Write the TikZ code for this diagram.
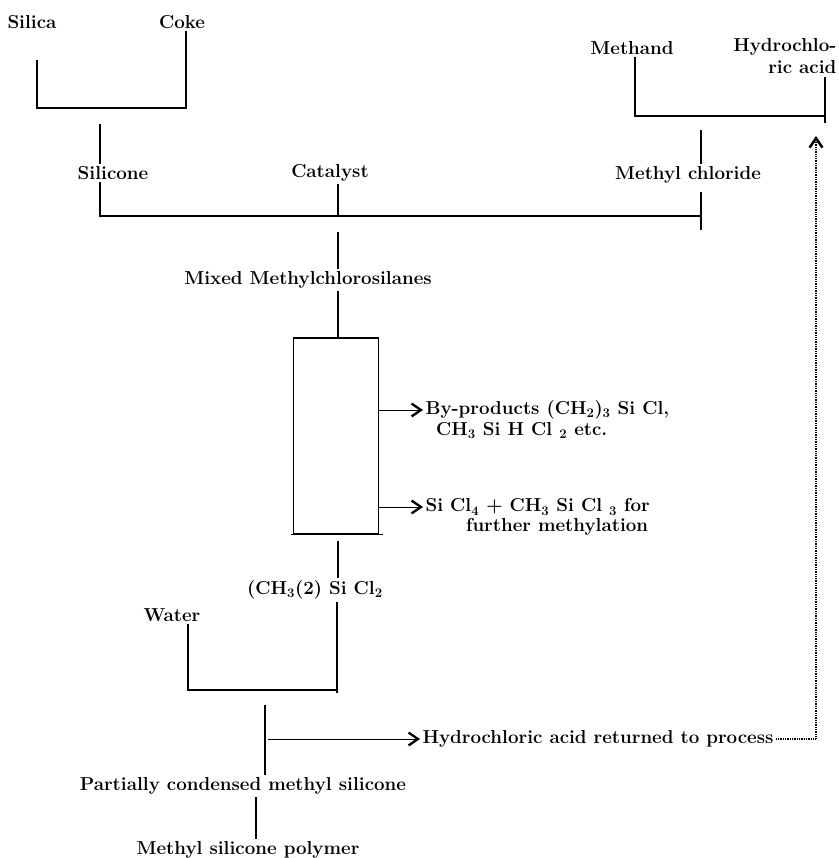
\documentclass[tikz,border=0pt]{standalone}
\usepackage{tikz}
\usetikzlibrary{arrows.meta, positioning}
\begin{document}
\begin{tikzpicture}[x=0.03cm,y=-0.03cm]
 \tikzstyle{flowtext}=[inner sep=2pt,font=\fontsize{16}{19}\selectfont\bfseries]
 \tikzstyle{feedline}=[line width=0.9pt]
 \tikzstyle{sidearrow}=[line width=0.7pt,
   -{Straight Barb[length=8pt,width=11pt,line width=2pt]}]
 \useasboundingbox (0,0) rectangle (839,858);
 % raw materials
 \node (silica) [flowtext] at (32,22) {Silica};
 \node (coke) [flowtext] at (182,22) {Coke};
 \node (methand) [flowtext] at (632,48) {Methand};
 \node (hcl) [flowtext,align=right,anchor=north east] at (839,36)
   {Hydrochlo-\\ric acid};
 \node (silicone) [flowtext] at (113,173) {Silicone};
 \node (catalyst) [flowtext] at (330,173) {Catalyst};
 \node (methcl) [flowtext] at (688,175) {Methyl chloride};
 \node (mixed) [flowtext] at (308,280) {Mixed Methylchlorosilanes};
 % still
 \node (still) [draw,feedline,minimum width=85*0.03cm,minimum height=196*0.03cm]
   at (336,436) {};
 \node (byprod) [flowtext,anchor=west] at (423,410)
   {By-products (CH\textsubscript{2})\textsubscript{3} Si Cl,};
 \node (byprodb) [flowtext,anchor=north west,inner sep=0pt]
   at ([xshift=13*0.03cm]byprod.south west)
   {CH\textsubscript{3} Si H Cl \textsubscript{2} etc.};
 \node (tetra) [flowtext,anchor=west] at (423,507)
   {Si Cl\textsubscript{4} + CH\textsubscript{3} Si Cl \textsubscript{3} for};
 \node (further) [flowtext,anchor=north east,inner sep=0pt]
   at ([xshift=-4*0.03cm]tetra.south east) {further methylation};
 \node (dimeth) [flowtext] at (315,590)
   {(CH\textsubscript{3}(2) Si Cl\textsubscript{2}};
 \node (water) [flowtext] at (172,615) {Water};
 \node (returned) [flowtext,anchor=west] at (420,739)
   {Hydrochloric acid returned to process};
 \node (partial) [flowtext] at (243,786) {Partially condensed methyl silicone};
 \node (polymer) [flowtext] at (248,850) {Methyl silicone polymer};
 % joints
 \coordinate (feedL) at (100,216);
 \coordinate (feedR) at (701,216);
 \coordinate (axis) at (338,216);
 % brackets and connectors
 \draw[feedline] (37,60) |- (186,108) -- (coke.south -| 186,0);
 \draw[feedline] (100,124) -- (silicone.north -| feedL);
 \draw[feedline] (silicone.south -| feedL) -- (feedL) -- (feedR);
 \draw[feedline] (methcl.south -| feedR) ++(0,6) -- ++(0,38);
 \draw[feedline] (catalyst.south -| axis) -- (axis);
 \draw[feedline] (methand.south -| 635,0) |- (825,116);
 \draw[feedline] (hcl.south -| 825,0) -- (825,123);
 \draw[feedline] (701,130) -- (methcl.north -| feedR);
 \draw[feedline] (axis) ++(0,16) -- (mixed.north -| axis);
 \draw[feedline] (mixed.south -| axis) -- (still.north -| axis);
 \draw[feedline] ([xshift=-2*0.03cm]still.south west) -- ([xshift=4*0.03cm]still.south east);
 \draw[sidearrow] (still.east |- byprod.west) -- (byprod.west);
 \draw[sidearrow] (still.east |- tetra.west) -- (tetra.west);
 \draw[feedline] ([yshift=-6*0.03cm]still.south -| axis) -- (dimeth.north -| axis);
 \draw[feedline] (water.south -| 188,0) |- (337,690);
 \draw[feedline] (dimeth.south -| 337,0) -- (337,693);
 \draw[feedline] (265,705) -- (partial.north -| 265,0);
 \draw[sidearrow] (268,739) -- (returned.west);
 \draw[feedline] (partial.south -| 256,0) -- (polymer.north -| 256,0);
 % return of the acid
 \draw[line width=1.3pt,dash pattern=on 0.7pt off 0.8pt,
   -{Straight Barb[length=8pt,width=11pt,line width=2.2pt]}]
   (returned.east) -| (816,136);
\end{tikzpicture}
\end{document}
